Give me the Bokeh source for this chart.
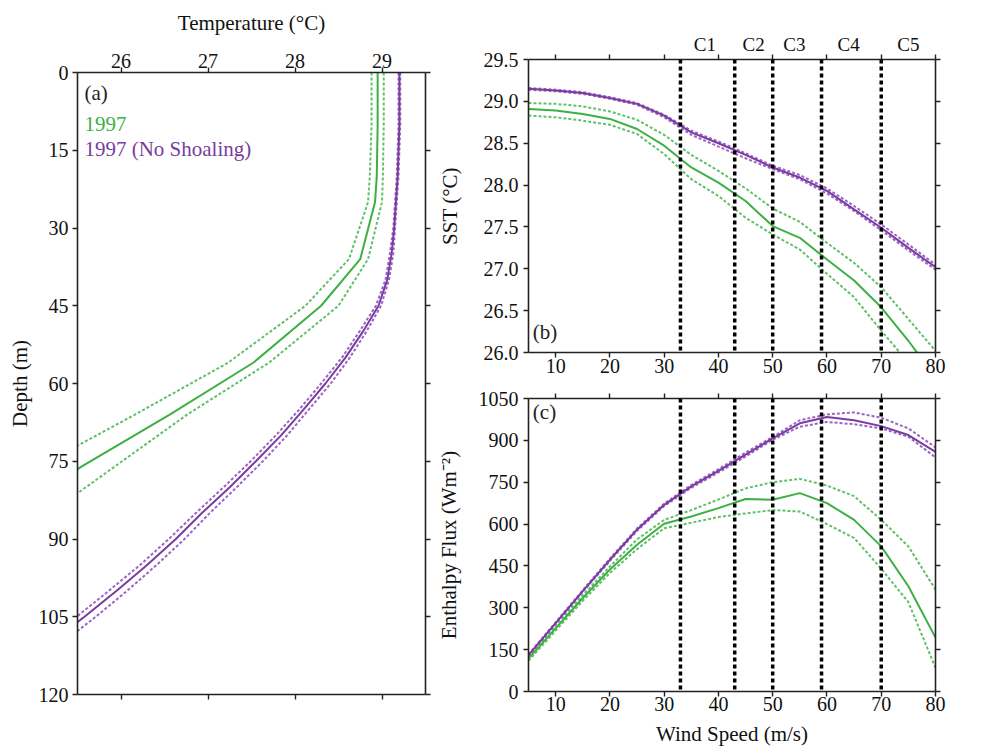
from bokeh.plotting import figure
from bokeh.layouts import row, column
from bokeh.models import (Range1d, LinearAxis, FixedTicker, Span, PrintfTickFormatter,
                          CustomJSTickFormatter)
from bokeh.core.properties import value
from bokeh.embed import file_html
from bokeh.resources import INLINE

FONT = "Liberation Serif"
GREEN = "#3cb043"
GREEN_D = "#62c06a"
PURPLE = "#7a3c9e"
PURPLE_D = "#9c64c4"
INK = "#222222"

# ---------------- panel (a): temperature profiles ----------------
depth_g = [0, 10, 20, 25, 36, 45, 56, 66, 76, 86]
temp_g = [28.95, 28.95, 28.94, 28.92, 28.75, 28.30, 27.52, 26.56, 25.55, 24.60]
temp_g_cool = [28.88, 28.88, 28.86, 28.84, 28.62, 28.12, 27.23, 26.16, 25.06, 23.97]
temp_g_warm = [29.02, 29.02, 29.01, 29.00, 28.84, 28.50, 27.70, 26.76, 25.93, 25.10]

depth_p = [0, 10, 20, 25, 30, 35, 40, 45, 50, 55, 60, 65, 70, 75, 80, 85, 90, 95, 100, 105, 110]
temp_p = [29.20, 29.20, 29.18, 29.16, 29.14, 29.11, 29.06, 28.96, 28.78, 28.58, 28.35,
          28.10, 27.84, 27.55, 27.25, 26.93, 26.63, 26.30, 25.95, 25.58, 25.20]
temp_p_cool = [29.19, 29.19, 29.17, 29.15, 29.13, 29.09, 29.04, 28.93, 28.74, 28.54, 28.30,
               28.05, 27.78, 27.49, 27.18, 26.86, 26.55, 26.22, 25.86, 25.49, 25.10]
temp_p_warm = [29.21, 29.21, 29.19, 29.17, 29.15, 29.13, 29.08, 28.99, 28.82, 28.63, 28.41,
               28.16, 27.91, 27.63, 27.33, 27.02, 26.73, 26.41, 26.07, 25.71, 25.33]

temp_ticks = [26, 27, 28, 29]
depth_ticks = [0, 15, 30, 45, 60, 75, 90, 105, 120]

legend_text = ["(a)", "1997", "1997 (No Shoaling)"]
legend_color = [INK, GREEN, PURPLE]
legend_x = [25.58, 25.58, 25.58]
legend_y = [4.0, 9.9, 14.8]

# ---------------- panels (b) and (c): vs wind speed ----------------
wind = [5, 10, 15, 20, 25, 30, 35, 40, 45, 50, 55, 60, 65, 70, 75, 80]

sst_g = [28.91, 28.89, 28.85, 28.79, 28.67, 28.47, 28.21, 28.03, 27.81, 27.51, 27.37, 27.11, 26.86, 26.54, 26.14, 25.70]
sst_g_hi = [28.98, 28.97, 28.94, 28.88, 28.78, 28.60, 28.36, 28.17, 27.96, 27.72, 27.56, 27.31, 27.07, 26.78, 26.40, 26.02]
sst_g_lo = [28.83, 28.81, 28.77, 28.72, 28.61, 28.37, 28.07, 27.87, 27.61, 27.41, 27.23, 26.94, 26.66, 26.26, 25.88, 25.40]
sst_p = [29.15, 29.13, 29.10, 29.04, 28.97, 28.83, 28.63, 28.50, 28.36, 28.21, 28.09, 27.93, 27.71, 27.49, 27.25, 27.02]
sst_p_hi = [29.16, 29.14, 29.11, 29.05, 28.98, 28.84, 28.65, 28.52, 28.38, 28.23, 28.12, 27.96, 27.75, 27.53, 27.29, 27.05]
sst_p_lo = [29.14, 29.12, 29.09, 29.03, 28.96, 28.81, 28.60, 28.46, 28.32, 28.19, 28.07, 27.90, 27.69, 27.46, 27.22, 26.99]

flux_g = [118, 226, 335, 437, 526, 601, 627, 657, 690, 687, 711, 675, 615, 520, 377, 193]
flux_g_hi = [125, 235, 345, 448, 545, 615, 650, 688, 728, 750, 762, 738, 700, 615, 520, 365]
flux_g_lo = [110, 218, 325, 425, 510, 585, 605, 625, 638, 650, 645, 600, 550, 440, 320, 85]
flux_p = [130, 245, 360, 472, 580, 669, 735, 791, 849, 907, 961, 984, 972, 951, 919, 859]
flux_p_hi = [133, 248, 363, 476, 584, 673, 740, 797, 856, 912, 972, 993, 1000, 981, 943, 875]
flux_p_lo = [127, 242, 357, 468, 576, 665, 730, 785, 842, 902, 949, 966, 958, 943, 913, 839]

wind_ticks = [10, 20, 30, 40, 50, 60, 70, 80]
sst_ticks = [26.0, 26.5, 27.0, 27.5, 28.0, 28.5, 29.0, 29.5]
flux_ticks = [0, 150, 300, 450, 600, 750, 900, 1050]

cat_wind = [33, 43, 50, 59, 70]
cat_labels = ["C1", "C2", "C3", "C4", "C5"]
cat_label_x = [37.5, 46.5, 54.0, 64.0, 75.0]

panel_b_tag = (5.8, 26.24, "(b)")
panel_c_tag = (5.8, 1003, "(c)")


def style_axis(ax, ticks, standoff=4):
    ax.ticker = FixedTicker(ticks=ticks)
    ax.axis_line_color = INK
    ax.axis_line_width = 1.6
    ax.major_tick_line_color = INK
    ax.major_tick_line_width = 1.4
    ax.major_tick_out = 5
    ax.major_tick_in = 0
    ax.minor_tick_line_color = None
    ax.major_label_text_font = FONT
    ax.major_label_text_color = "#111111"
    ax.major_label_text_font_size = "20px"
    ax.major_label_standoff = standoff
    ax.axis_label_text_font = FONT
    ax.axis_label_text_font_size = "21px"
    ax.axis_label_text_font_style = "normal"
    ax.axis_label_text_color = "#111111"


def mirror_axis(ticks):
    # frame side with outward ticks only (drawn as minor ticks, so no labels)
    ax = LinearAxis(ticker=FixedTicker(ticks=[], minor_ticks=ticks))
    ax.axis_line_color = INK
    ax.axis_line_width = 1.6
    ax.major_tick_line_color = None
    ax.minor_tick_line_color = INK
    ax.minor_tick_line_width = 1.4
    ax.minor_tick_out = 5
    ax.minor_tick_in = 0
    ax.major_label_standoff = 0
    return ax


def base_fig(**kw):
    p = figure(output_backend="svg", toolbar_location=None, **kw)
    p.outline_line_color = None
    p.xgrid.visible = False
    p.ygrid.visible = False
    p.background_fill_color = "white"
    p.border_fill_color = "white"
    return p


# ---------------- figure (a) ----------------
pa = base_fig(frame_width=348, frame_height=622,
              x_range=Range1d(25.5, 29.5), y_range=Range1d(120, 0),
              x_axis_location="above",
              min_border_left=77, min_border_top=72, min_border_right=8, min_border_bottom=12)
style_axis(pa.xaxis[0], temp_ticks, 0)
pa.xaxis[0].axis_label = "Temperature (°C)"
pa.xaxis[0].axis_label_standoff = 16
style_axis(pa.yaxis[0], depth_ticks, 4)
pa.yaxis[0].axis_label = "Depth (m)"
pa.yaxis[0].axis_label_standoff = 4
pa.add_layout(mirror_axis(temp_ticks), "below")
pa.add_layout(mirror_axis(depth_ticks), "right")

for xs in (temp_g_cool, temp_g_warm):
    pa.line(xs, depth_g, line_color=GREEN_D, line_width=2, line_dash="3 2")
pa.line(temp_g, depth_g, line_color=GREEN, line_width=2)
for xs in (temp_p_cool, temp_p_warm):
    pa.line(xs, depth_p, line_color=PURPLE_D, line_width=2, line_dash="3 2")
pa.line(temp_p, depth_p, line_color=PURPLE, line_width=2)

pa.text(x=legend_x, y=legend_y, text=legend_text, text_color=legend_color,
        text_font=value(FONT), text_font_size="21px", text_baseline="middle", text_align="left")

# ---------------- figure (b) ----------------
pb = base_fig(frame_width=407, frame_height=293,
              x_range=Range1d(5, 80), y_range=Range1d(26.0, 29.5),
              min_border_left=92, min_border_top=59, min_border_right=20, min_border_bottom=36)
style_axis(pb.xaxis[0], wind_ticks, 1)
style_axis(pb.yaxis[0], sst_ticks, 5)
pb.yaxis[0].formatter = PrintfTickFormatter(format="%.1f")
pb.yaxis[0].axis_label = "SST (°C)"
pb.yaxis[0].axis_label_standoff = 19
pb.add_layout(mirror_axis(wind_ticks), "above")
cat_axis = LinearAxis(ticker=FixedTicker(ticks=cat_label_x),
                      formatter=CustomJSTickFormatter(
                          args=dict(xs=cat_label_x, labels=cat_labels),
                          code="const i = xs.indexOf(tick); return i >= 0 ? labels[i] : '';"))
cat_axis.axis_line_color = None
cat_axis.major_tick_line_color = None
cat_axis.minor_tick_line_color = None
cat_axis.major_tick_out = 0
cat_axis.major_tick_in = 0
cat_axis.major_label_standoff = 0
cat_axis.major_label_text_font = FONT
cat_axis.major_label_text_font_size = "19px"
cat_axis.major_label_text_color = "#111111"
pb.add_layout(cat_axis, "above")
pb.add_layout(mirror_axis(sst_ticks), "right")

for ys in (sst_g_hi, sst_g_lo):
    pb.line(wind, ys, line_color=GREEN_D, line_width=2, line_dash="3 2")
pb.line(wind, sst_g, line_color=GREEN, line_width=2)
for ys in (sst_p_hi, sst_p_lo):
    pb.line(wind, ys, line_color=PURPLE_D, line_width=2, line_dash="3 2")
pb.line(wind, sst_p, line_color=PURPLE, line_width=2)

for w in cat_wind:
    pb.add_layout(Span(location=w, dimension="height", line_color="black",
                       line_width=3.5, line_dash="4 3"))
pb.text(x=[panel_b_tag[0]], y=[panel_b_tag[1]], text=[panel_b_tag[2]], text_color=INK,
        text_font=value(FONT), text_font_size="21px", text_baseline="middle", text_align="left")

# ---------------- figure (c) ----------------
pc = base_fig(frame_width=407, frame_height=293,
              x_range=Range1d(5, 80), y_range=Range1d(0, 1050),
              min_border_left=92, min_border_top=10, min_border_right=20, min_border_bottom=50)
style_axis(pc.xaxis[0], wind_ticks, 0)
pc.xaxis[0].axis_label = "Wind Speed (m/s)"
pc.xaxis[0].axis_label_standoff = 8
style_axis(pc.yaxis[0], flux_ticks, 5)
pc.yaxis[0].axis_label = "Enthalpy Flux (Wm⁻²)"
pc.yaxis[0].axis_label_standoff = 15
pc.add_layout(mirror_axis(wind_ticks), "above")
pc.add_layout(mirror_axis(flux_ticks), "right")

for ys in (flux_g_hi, flux_g_lo):
    pc.line(wind, ys, line_color=GREEN_D, line_width=2, line_dash="3 2")
pc.line(wind, flux_g, line_color=GREEN, line_width=2)
for ys in (flux_p_hi, flux_p_lo):
    pc.line(wind, ys, line_color=PURPLE_D, line_width=2, line_dash="3 2")
pc.line(wind, flux_p, line_color=PURPLE, line_width=2)

for w in cat_wind:
    pc.add_layout(Span(location=w, dimension="height", line_color="black",
                       line_width=3.5, line_dash="4 3"))
pc.text(x=[panel_c_tag[0]], y=[panel_c_tag[1]], text=[panel_c_tag[2]], text_color=INK,
        text_font=value(FONT), text_font_size="21px", text_baseline="middle", text_align="left")

layout = row(pa, column(pb, pc))
open("out.html", "w").write(file_html(layout, INLINE))
